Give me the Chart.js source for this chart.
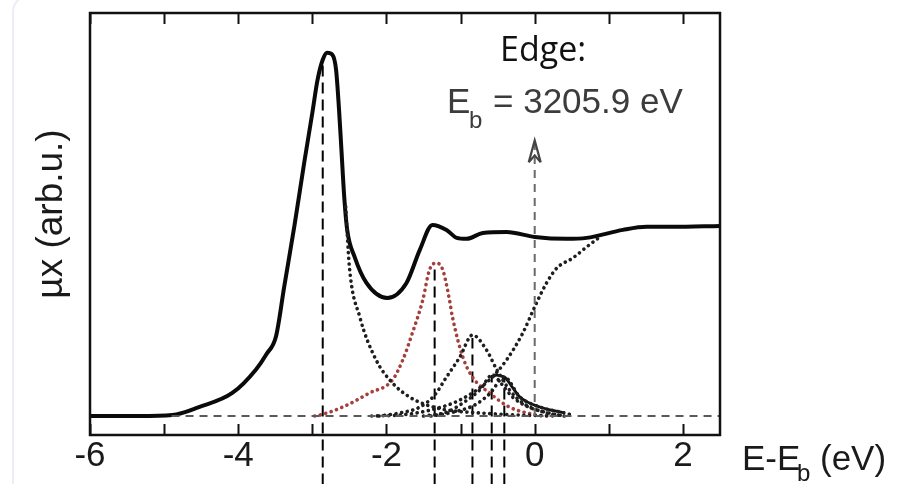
<!DOCTYPE html>
<html>
<head>
<meta charset="utf-8">
<script src="https://cdn.jsdelivr.net/npm/chart.js@4.4.1/dist/chart.umd.min.js"></script>
<style>
  html, body { margin: 0; padding: 0; background: #fff; }
  #wrap { position: relative; width: 907px; height: 484px; overflow: hidden; }
  #edge { position: absolute; left: 12px; top: -6px; width: 40px; height: 500px;
          border-left: 2px solid #ececfb; border-top: 2px solid #ececfb; border-top-left-radius: 18px; }
  canvas { position: absolute; left: 0; top: 0; }
</style>
</head>
<body>
<div id="wrap">
  <div id="edge"></div>
  <canvas id="xas" width="907" height="484"></canvas>
</div>
<script>
// energy relative to the edge (eV) and absorption (arb. units, 0 = baseline, 1 = step)
const mainE = [-6, -5.34, -4.89, -4.53, -4.08, -3.76, -3.62, -3.49, -3.38, -3.24, -3.11, -3.0, -2.93, -2.86, -2.8, -2.73, -2.68, -2.64, -2.61, -2.57, -2.53, -2.43, -2.27, -1.99, -1.73, -1.55, -1.38, -1.19, -1.05, -0.92, -0.7, -0.38, 0, 0.43, 0.7, 1.19, 1.51, 1.86, 2.5]
const mainY = [0, 0, 0.005, 0.047, 0.121, 0.245, 0.325, 0.42, 0.679, 1.005, 1.332, 1.595, 1.768, 1.874, 1.911, 1.9, 1.821, 1.611, 1.416, 1.153, 0.979, 0.837, 0.70, 0.621, 0.70, 0.874, 1.005, 0.979, 0.937, 0.932, 0.963, 0.968, 0.942, 0.932, 0.937, 0.979, 0.995, 0.995, 1.0]

const peak1E = [-2.55, -2.5, -2.36, -2.14, -1.92, -1.69, -1.46, -1.19, -0.74, -0.2, 0.3]
const peak1Y = [1.1, 0.784, 0.521, 0.295, 0.174, 0.10, 0.058, 0.032, 0.016, 0.005, 0]

const peak2E = [-2.97, -2.9, -2.59, -2.23, -1.92, -1.78, -1.65, -1.51, -1.42, -1.33, -1.24, -1.15, -1.11, -0.97, -0.84, -0.61, -0.34, 0.03, 0.16]
const peak2Y = [0, 0.005, 0.047, 0.121, 0.189, 0.295, 0.437, 0.61, 0.768, 0.805, 0.768, 0.61, 0.521, 0.31, 0.205, 0.121, 0.047, 0.005, 0]

const peak3E = [-2.1, -1.82, -1.55, -1.35, -1.19, -1.01, -0.84, -0.65, -0.51, -0.34, -0.16, 0.16, 0.4]
const peak3Y = [0, 0.016, 0.047, 0.11, 0.205, 0.31, 0.426, 0.347, 0.242, 0.137, 0.068, 0.016, 0]

const peak4E = [-1.5, -1.19, -0.97, -0.74, -0.57, -0.45, -0.3, -0.1, 0.2, 0.4]
const peak4Y = [0, 0.02, 0.068, 0.137, 0.216, 0.17, 0.1, 0.05, 0.015, 0]

const peak5E = [-1.4, -1.1, -0.8, -0.6, -0.41, -0.2, 0.07, 0.4, 0.5]
const peak5Y = [0, 0.02, 0.06, 0.12, 0.205, 0.1, 0.047, 0.016, 0.005]

const tailE = [-0.57, -0.41, -0.3, -0.2, 0.07, 0.4]
const tailY = [0.216, 0.205, 0.15, 0.1, 0.047, 0.016]

const stepE = [-2.2, -1.82, -1.42, -1.01, -0.61, -0.38, -0.16, 0, 0.16, 0.30, 0.51, 0.70, 0.88]
const stepY = [0, 0.005, 0.03, 0.084, 0.19, 0.295, 0.437, 0.574, 0.70, 0.779, 0.83, 0.889, 0.942]

// fitted peak positions and the height where each marker line stops
const markE = [-2.86, -1.35, -0.84, -0.58, -0.41]
const markTop = [1.86, 0.77, 0.41, 0.216, 0.205]
const markBottom = -0.36

const baseE = [-4.9, 2.5]
const edgeE = 0
const edgeTop = 1.45
const xTicks = [-6, -4, -2, 0, 2]

const pts = (xs, ys) => xs.map((x, i) => ({x: x, y: ys[i]}))

const dotted = (data, color) => ({
  data: data, borderColor: color, borderWidth: 3.6, borderDash: [0.1, 5.6],
  borderCapStyle: 'round', pointRadius: 0, cubicInterpolationMode: 'monotone', fill: false
})

const datasets = []
datasets.push({data: pts(baseE, [0, 0]), borderColor: '#5a5a5a', borderWidth: 2, borderDash: [8, 6], pointRadius: 0})
datasets.push({data: pts([edgeE, edgeE], [0, edgeTop]), borderColor: '#6a6a6a', borderWidth: 2, borderDash: [8, 6], pointRadius: 0})
datasets.push(dotted(pts(stepE, stepY), '#1e1e1e'))
datasets.push(dotted(pts(peak3E, peak3Y), '#1e1e1e'))
datasets.push(dotted(pts(peak4E, peak4Y), '#1e1e1e'))
datasets.push(dotted(pts(peak5E, peak5Y), '#1e1e1e'))
datasets.push({data: pts(tailE, tailY), borderColor: '#111', borderWidth: 2.8, pointRadius: 0, cubicInterpolationMode: 'monotone'})
datasets.push(dotted(pts(peak1E, peak1Y), '#1e1e1e'))
datasets.push(dotted(pts(peak2E, peak2Y), '#a53f3c'))
markE.forEach((e, i) => {
  datasets.push({data: pts([e, e], [markBottom, markTop[i]]), borderColor: '#000', borderWidth: 2,
    borderDash: [11, 6], pointRadius: 0, clip: false})
})
datasets.push({data: pts(mainE, mainY), borderColor: '#0a0a0a', borderWidth: 4, pointRadius: 0,
  cubicInterpolationMode: 'monotone', borderJoinStyle: 'round'})

const decor = {
  id: 'decor',
  afterDraw(chart) {
    const {ctx, chartArea: a, scales: {x, y}} = chart
    ctx.save()
    // frame
    ctx.strokeStyle = '#111'
    ctx.lineWidth = 2.5
    ctx.strokeRect(a.left, a.top, a.right - a.left, a.bottom - a.top)
    // inward ticks top and bottom
    ctx.lineWidth = 2
    x.ticks.forEach(t => {
      if (!Number.isInteger(t.value)) return
      const px = Math.round(x.getPixelForValue(t.value)) + 0.5
      ctx.beginPath()
      ctx.moveTo(px, a.bottom); ctx.lineTo(px, a.bottom - 11)
      ctx.moveTo(px, a.top); ctx.lineTo(px, a.top + 11)
      ctx.stroke()
    })
    // arrow head on the edge marker
    const ax = x.getPixelForValue(edgeE), ay = y.getPixelForValue(edgeTop)
    ctx.strokeStyle = '#444'
    ctx.lineWidth = 2.2
    ctx.beginPath()
    ctx.moveTo(ax - 6, ay + 22); ctx.lineTo(ax, ay); ctx.lineTo(ax + 6, ay + 22)
    ctx.moveTo(ax - 6, ay + 22); ctx.lineTo(ax, ay + 15); ctx.lineTo(ax + 6, ay + 22)
    ctx.stroke()
    // annotation
    ctx.fillStyle = '#111'
    ctx.textBaseline = 'alphabetic'
    ctx.textAlign = 'left'
    ctx.font = '34px "Open Sans"'
    ctx.fillText('Edge:', 500, 61)
    ctx.fillStyle = '#3c3c3c'
    ctx.font = '35px "Liberation Sans"'
    ctx.fillText('E', 447, 113)
    ctx.font = '24px "Liberation Sans"'
    ctx.fillText('b', 469, 128)
    ctx.font = '35px "Liberation Sans"'
    ctx.fillText('= 3205.9 eV', 493, 113)
    // x axis title
    ctx.fillStyle = '#1a1a1a'
    ctx.font = '35px "Liberation Sans"'
    ctx.fillText('E-E', 742, 470)
    ctx.font = '24px "Liberation Sans"'
    ctx.fillText('b', 797, 481)
    ctx.font = '35px "Liberation Sans"'
    ctx.fillText('(eV)', 820, 470)
    // y axis title
    ctx.translate(52, 214)
    ctx.rotate(-Math.PI / 2)
    ctx.textAlign = 'center'
    ctx.textBaseline = 'middle'
    ctx.font = '37px "Liberation Sans"'
    ctx.fillText('\u00b5x (arb.u.)', 0, 0)
    ctx.restore()
  }
}

new Chart(document.getElementById('xas'), {
  type: 'line',
  data: {datasets: datasets},
  options: {
    responsive: false,
    animation: false,
    events: [],
    layout: {padding: {left: 90, right: 187, top: 13, bottom: 0}},
    plugins: {legend: {display: false}, tooltip: {enabled: false}},
    scales: {
      x: {
        type: 'linear', min: -6, max: 2.5,
        grid: {display: false, drawTicks: false},
        border: {display: false},
        afterFit: s => { s.height = 49 },
        ticks: {
          stepSize: 1, includeBounds: false, autoSkip: false, maxRotation: 0, minRotation: 0,
          padding: 0, color: '#1a1a1a', font: {family: 'Liberation Sans', size: 35},
          callback: v => xTicks.includes(v) ? String(v) : ''
        }
      },
      y: {type: 'linear', min: -0.1, max: 2.12, display: false}
    }
  },
  plugins: [decor]
})
</script>
</body>
</html>
